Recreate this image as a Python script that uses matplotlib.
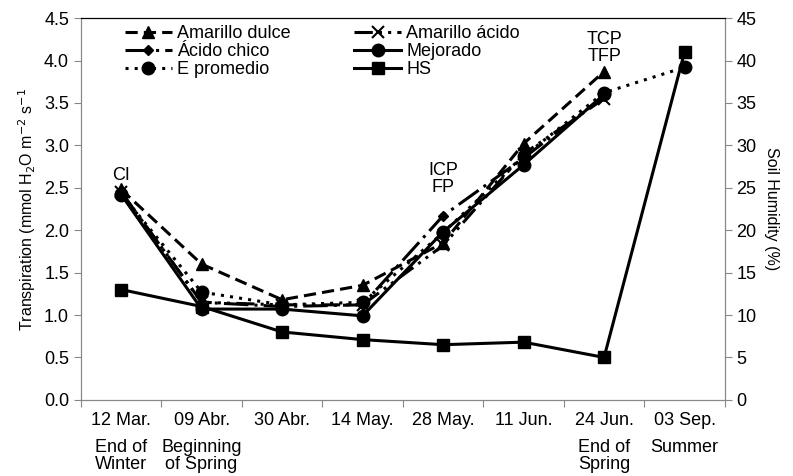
import numpy as np
import matplotlib.pyplot as plt
import matplotlib.transforms as mtransforms

plt.rcParams['font.family'] = ['Liberation Sans', 'DejaVu Sans']

# Data
dates = ['12 Mar.', '09 Abr.', '30 Abr.', '14 May.', '28 May.', '11 Jun.', '24 Jun.', '03 Sep.']
seasons = ['End of\nWinter', 'Beginning\nof Spring', '', '', '', '', 'End of\nSpring', 'Summer']

amarillo_dulce = [2.48, 1.60, 1.18, 1.35, 1.85, 3.02, 3.87]
amarillo_acido = [2.45, 1.15, 1.12, 1.12, 1.82, 2.90, 3.55]
acido_chico = [2.45, 1.15, 1.10, 1.12, 2.17, 2.85, 3.58]
mejorado = [2.42, 1.07, 1.07, 0.99, 1.98, 2.77, 3.60]
e_promedio = [2.43, 1.27, 1.12, 1.15, 1.97, 2.87, 3.62, 3.92]
hs = [13.0, 11.0, 8.0, 7.1, 6.5, 6.8, 5.0, 41.0]

phase_labels = ['CI', 'ICP\nFP', 'TCP\nTFP']
phase_pos = [0, 4, 6]
phase_y = [2.55, 2.4, 3.95]

x = np.arange(len(dates))
fs = 13

fig = plt.figure(figsize=(7.93, 4.76), dpi=100)
ax = fig.add_axes([0.102, 0.160, 0.812, 0.802])
ax2 = ax.twinx()

n7 = len(amarillo_dulce)
ax.plot(x[:n7], amarillo_dulce, color='black', lw=2.2, ls=(0, (4, 2)), marker='^', ms=9, label='Amarillo dulce')
ax.plot(x[:n7], acido_chico, color='black', lw=2.2, ls=(0, (8, 2, 1, 2)), marker='D', ms=5.5, label='Ácido chico')
ax.plot(x, e_promedio, color='black', lw=2.2, ls=(0, (1, 2)), marker='o', ms=9, label='E promedio')
ax.plot(x[:n7], amarillo_acido, color='black', lw=2.2, ls=(0, (6, 2, 1, 2, 1, 2)), marker='x', ms=8, mew=1.5, label='Amarillo ácido')
ax.plot(x[:n7], mejorado, color='black', lw=2.2, ls='-', marker='o', ms=9, label='Mejorado')
ax2.plot(x, hs, color='black', lw=2.2, ls='-', marker='s', ms=9, label='HS')

ax.set_xlim(-0.5, len(dates) - 0.5)
ax.set_ylim(0, 4.5)
ax.set_yticks(np.arange(0, 4.51, 0.5))
ax.set_yticklabels([f'{v:.1f}' for v in np.arange(0, 4.51, 0.5)])
ax2.set_ylim(0, 45)
ax2.set_yticks(np.arange(0, 46, 5))

ax.set_xticks(np.arange(-0.5, len(dates), 1.0))
ax.set_xticklabels([])
ax.set_xticks(x, minor=True)
ax.set_xticklabels(dates, minor=True)
ax.tick_params(axis='x', which='minor', length=0, pad=9, labelsize=fs)
ax.tick_params(axis='x', which='major', length=5, color='#888888')
ax.tick_params(axis='y', length=5, color='#888888', labelsize=fs)
ax2.tick_params(axis='y', length=5, color='#888888', labelsize=fs)

for a in (ax, ax2):
    a.spines['left'].set_color('#888888')
    a.spines['right'].set_color('#888888')
    a.spines['bottom'].set_color('#888888')
    a.spines['top'].set_color('black')

trans = mtransforms.blended_transform_factory(ax.transData, ax.transAxes)
for xi, s in zip(x, seasons):
    if s:
        ax.text(xi, -0.102, s, transform=trans, ha='center', va='top', fontsize=fs, linespacing=1.0)

for p, lab, yv in zip(phase_pos, phase_labels, phase_y):
    ax.text(p, yv, lab, ha='center', va='bottom', fontsize=fs, linespacing=1.0)

ax.set_ylabel('Transpiration (mmol H$_2$O m$^{-2}$ s$^{-1}$', fontsize=11.5, labelpad=4)
ax2.set_ylabel('Soil Humidity (%)', rotation=270, labelpad=16, fontsize=11.5)

h1, l1 = ax.get_legend_handles_labels()
h2, l2 = ax2.get_legend_handles_labels()
ax.legend(h1 + h2, l1 + l2, ncol=2, loc='upper left', bbox_to_anchor=(0.06, 0.995),
          frameon=False, fontsize=fs, handlelength=2.6, columnspacing=3.5,
          labelspacing=0.05, handletextpad=0.3, borderaxespad=0.0, borderpad=0.3)

fig.savefig('out.png', dpi=100)
